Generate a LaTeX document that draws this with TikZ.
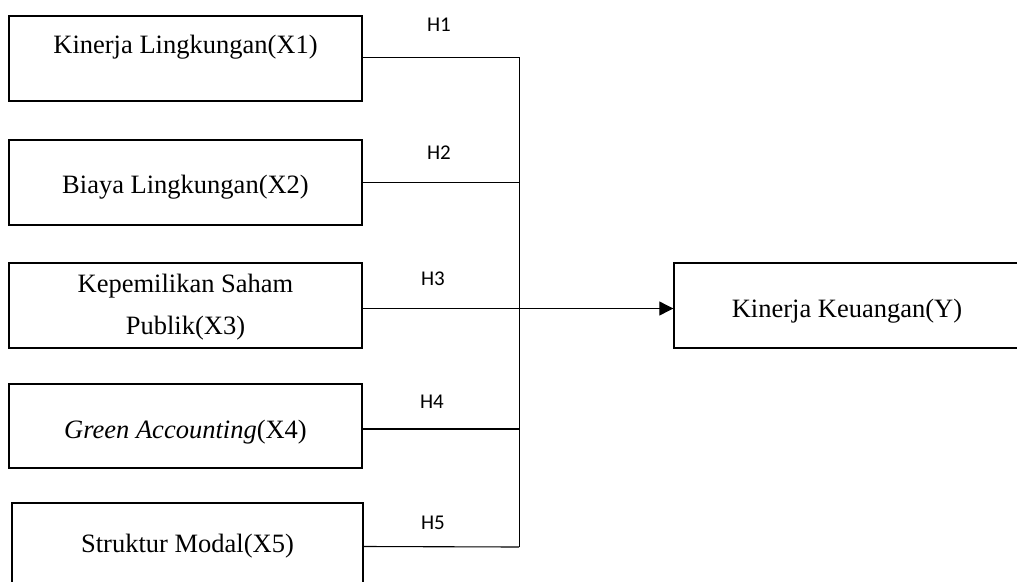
\documentclass[tikz,border=0pt]{standalone}
\usepackage{fontspec}
\setmainfont{Liberation Serif}
\newfontfamily\labfont{Carlito}
\usetikzlibrary{arrows.meta}
\begin{document}
\begin{tikzpicture}[x=1pt,y=-1pt,
  box/.style={draw, line width=1.4pt, inner sep=0pt, minimum width=353pt, minimum height=85pt,
    font=\fontsize{26.5}{42}\selectfont, align=center},
  conn/.style={draw, line width=1.1pt},
  vline/.style={draw, line width=0.9pt},
  arr/.style={draw, line width=1.1pt, -{Triangle[length=14pt,width=14pt]}},
  hlab/.style={font=\labfont\fontsize{21}{24}\selectfont, inner sep=0pt}]
\useasboundingbox (0,0) rectangle (1017,581);
\node[box, text height=18pt, text depth=29pt] (b1) at (185.5,58.5) {Kinerja Lingkungan(X1)};
\node[box, text height=27pt, text depth=6pt] (b2) at (185.5,182.5) {Biaya Lingkungan(X2)};
\node[box] (b3) at (185.5,305.5) {\raisebox{-2pt}{\begin{tabular}{@{}c@{}}Kepemilikan Saham\\Publik(X3)\end{tabular}}};
\node[box, minimum height=84pt, text height=30pt, text depth=6pt] (b4) at (185.5,426) {\textit{Green Accounting}(X4)};
\node[box, minimum width=351pt, minimum height=87pt, text height=18pt, text depth=7pt] (b5) at (187.5,546.5) {Struktur Modal(X5)};
\node[box, minimum width=346pt, text height=29pt, text depth=6pt] (y) at (847,305.5) {Kinerja Keuangan(Y)};
\coordinate (jb) at (519,547);
\coordinate (j3) at (519,308.5);
\draw[vline] ([yshift=1.5pt]b1.east) -| (jb);
\draw[conn] (b2.east) -- (b2.east -| jb);
\draw[conn] ([yshift=-3pt]b3.east) -- (j3);
\draw[conn] ([yshift=-3pt]b4.east) -- ([yshift=-3pt]b4.east -| jb);
\draw[conn] (b5.east) -- (jb);
\draw[arr] (j3) -- (j3 -| y.west);
\node[hlab] (h1) at (439,25) {H1};
\node[hlab] (h2) at (439,153) {H2};
\node[hlab] (h3) at (433,279) {H3};
\node[hlab] (h4) at (432,402) {H4};
\node[hlab] (h5) at (433,523) {H5};
\end{tikzpicture}
\end{document}
